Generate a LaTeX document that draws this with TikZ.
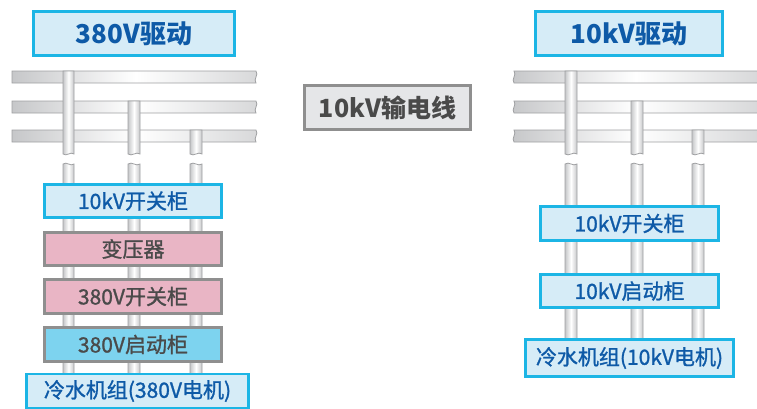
\documentclass[tikz,border=0pt]{standalone}
\usepackage{fontspec}
\setmainfont{Noto Sans CJK SC}
\newfontfamily\medf[FakeBold=1.2]{Noto Sans CJK SC}
\definecolor{cyanB}{HTML}{1CB5E5}
\definecolor{lblue}{HTML}{D6ECF7}
\definecolor{tblue}{HTML}{0E5AA7}
\definecolor{pinkF}{HTML}{E9B5C5}
\definecolor{skyF}{HTML}{7DD3EF}
\definecolor{grayB}{HTML}{8F8F8F}
\definecolor{grayF}{HTML}{E5E6E8}
\definecolor{tgray}{HTML}{4A4A4A}
\definecolor{pipeG}{HTML}{C6C7C9}
\definecolor{pipeL}{HTML}{9FA0A2}
\tikzset{
  box/.style={rectangle, inner sep=0pt, outer sep=0pt, line width=2.5pt, font=\medf\fontsize{21}{23}\selectfont},
  bluebox/.style={box, draw=cyanB, fill=lblue, text=tblue},
  pinkbox/.style={box, draw=grayB, fill=pinkF, text=tgray},
  skybox/.style={box, draw=grayB, fill=skyF, text=tgray},
  titlebox/.style={bluebox, font=\fontsize{26}{28}\selectfont\bfseries},
  midbox/.style={box, draw=grayB, fill=grayF, text=tgray, font=\fontsize{25}{27}\selectfont\bfseries},
  hbar/.style={draw=pipeL, line width=0.8pt, left color=pipeG, right color=pipeG!70, middle color=white},
  vpipe/.style={draw=pipeL, line width=0.8pt, left color=pipeG, right color=pipeG, middle color=white},
}
\newcommand{\upperpipe}[3]{% x1 x2 top
  \draw[vpipe] (#1,#3) -- (#2,#3) -- (#2,154) .. controls (#2-4,151) and (#1+4,157) .. (#1,154) -- cycle;}
\newcommand{\lowerpipe}[3]{% x1 x2 bottom
  \draw[vpipe] (#1,164) .. controls (#1+4,161) and (#2-4,167) .. (#2,164) -- (#2,#3) -- (#1,#3) -- cycle;}
\begin{document}
\begin{tikzpicture}[x=1pt,y=-1pt]
\useasboundingbox (0,0) rectangle (757,408);
\clip (0,0) rectangle (757,408);
% left bars
\foreach \t in {71,101,130}{
  \draw[hbar] (12,\t) -- (256,\t) .. controls (259,\t+4) and (253,\t+8) .. (256,\t+12) -- (12,\t+12) -- cycle;
}
% right bars
\foreach \t in {71,101,130}{
  \draw[hbar] (514,\t) -- (760,\t) -- (760,\t+12) -- (514,\t+12) .. controls (511,\t+8) and (517,\t+4) .. (514,\t) -- cycle;
}
% left pipes
\upperpipe{63}{74}{71}
\upperpipe{128}{140}{101}
\upperpipe{190}{202}{130}
\lowerpipe{63}{74}{375}
\lowerpipe{128}{140}{375}
\lowerpipe{190}{202}{375}
% right pipes
\upperpipe{565}{577}{71}
\upperpipe{631}{643}{101}
\upperpipe{692}{704}{130}
\lowerpipe{565}{577}{340}
\lowerpipe{631}{643}{340}
\lowerpipe{692}{704}{340}
% titles
\node[titlebox, minimum width=201pt, minimum height=44pt] (t1) at (134,33.5) {380V驱动};
\node[titlebox, minimum width=187pt, minimum height=44pt] (t2) at (629,33.5) {10kV驱动};
\node[midbox, minimum width=166pt, minimum height=44pt] (mid) at (387.5,107.5) {10kV输电线};
% left column
\node[bluebox, minimum width=177pt, minimum height=33pt] (l1) at (133,201) {10kV开关柜};
\node[pinkbox, minimum width=177pt, minimum height=33pt] (l2) at (133,249) {变压器};
\node[pinkbox, minimum width=177pt, minimum height=34pt] (l3) at (133,296.5) {380V开关柜};
\node[skybox, minimum width=177pt, minimum height=34pt] (l4) at (133,344.5) {380V启动柜};
\node[bluebox, minimum width=222pt, minimum height=34pt] (l5) at (137.5,391) {冷水机组(380V电机)};
% right column
\node[bluebox, minimum width=178pt, minimum height=34pt] (r1) at (629.5,223.5) {10kV开关柜};
\node[bluebox, minimum width=178pt, minimum height=33pt] (r2) at (629.5,291) {10kV启动柜};
\node[bluebox, minimum width=208pt, minimum height=37pt] (r3) at (629.5,358) {冷水机组(10kV电机)};
\end{tikzpicture}
\end{document}
